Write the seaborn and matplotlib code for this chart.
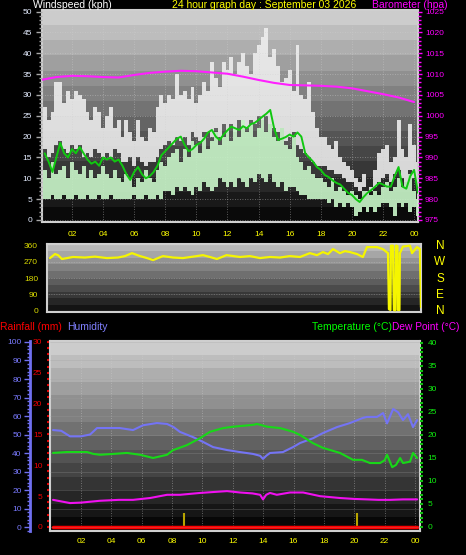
import numpy as np
import matplotlib
matplotlib.use("Agg")
import matplotlib.pyplot as plt
import seaborn as sns
from matplotlib.ticker import MultipleLocator, FixedLocator

# -----------------------------
# DATA
# -----------------------------

# 15 minute slots 00:15 .. 24:15 for the wind panel
slot_hours = np.arange(1, 98) * 0.25

gust_hi = [27, 24, 26, 33,  33, 28, 31, 29,  31, 30, 29, 26,  24, 27, 26, 22,
           25, 27, 22, 24,  20, 24, 21, 19,  24, 20, 19, 22,  21, 27, 30, 28,
           30, 29, 35, 30,  31, 29, 32, 28,  30, 33, 31, 38,  34, 32, 38, 36,
           39, 35, 38, 40,  37, 35, 40, 42,  44, 46, 39, 41,  37, 33, 34, 36,
           31, 42, 30, 29,  33, 26, 22, 20,  20, 18, 17, 19,  15, 14, 13, 12,
           10, 9, 11, 7,    8, 12, 16, 17,  18, 14, 15, 24,  17, 15, 23, 18,
           14]
gust_lo = [17, 15, 16, 18,  19, 17, 16, 18,  17, 18, 15, 16,  15, 17, 16, 15,
           16, 15, 17, 16,  14, 14, 15, 13,  15, 14, 13, 14,  14, 15, 17, 18,
           19, 18, 20, 19,  20, 18, 21, 20,  19, 21, 21, 20,  22, 20, 23, 21,
           23, 21, 24, 22,  22, 24, 23, 25,  24, 25, 23, 22,  21, 22, 19, 20,
           21, 18, 17, 16,  15, 14, 13, 13,  13, 12, 12, 11,  11, 10, 9, 9,
           8, 7, 8, 6,      7, 8, 9, 10,    11, 9, 11, 12,   10, 9, 12, 10,
           8]
speed_hi = [12, 10, 14, 11,  12, 13, 10, 14,  12, 11, 13, 10,  12, 10, 11, 13,
            11, 10, 12, 10,  9, 11, 10, 8,    10, 9, 12, 10,   9, 12, 14, 13,
            15, 16, 17, 14,  17, 15, 19, 18,  16, 20, 17, 19,  21, 18, 20, 22,
            19, 22, 20, 24,  21, 23, 20, 22,  24, 21, 23, 20,  19, 22, 18, 17,
            20, 15, 14, 12,  13, 11, 10, 10,  9, 8, 10, 7,     8, 7, 6, 7,
            6, 5, 7, 6,      6, 7, 6, 8,      9, 7, 8, 10,     8, 9, 11, 7,
            5]
speed_lo = [5, 5, 6, 5,  5, 6, 5, 5,  6, 5, 5, 6,  5, 5, 6, 5,
            5, 6, 5, 5,  5, 5, 5, 6,  5, 5, 6, 5,  5, 6, 5, 7,
            7, 6, 8, 7,  8, 7, 6, 8,  7, 9, 8, 7,  8, 10, 9, 8,
            9, 8, 10, 9, 8, 10, 9, 11, 10, 9, 11, 9, 8, 9, 7, 8,
            8, 7, 6, 6,  5, 5, 5, 5,  5, 4, 5, 3,  4, 3, 4, 3,
            1, 2, 3, 2,  3, 2, 3, 4,  4, 3, 1, 4,  3, 4, 2, 3,
            1]
wind_avg = [16, 14, 11.5, 15,  18.5, 16, 15, 17,  16, 17.5, 16, 14.5,
            13.5, 14, 13, 15,  14.5, 15, 14, 14.5,  13, 11, 9.6, 11.5,
            12.7, 11, 10, 10.5,  11.5, 13, 15.5, 16.5,  17.5, 18.5, 19.5, 20,
            18, 16.5, 17, 18,  18.5, 19.5, 21, 21.6,  20, 19.2, 20.5, 21.5,
            22.4, 22, 21.6, 22.5,  22, 23, 23.3, 24,  24.8, 25.5, 26.4, 22,
            19.2, 19.5, 19.9, 20.5,  20, 21, 20, 16,  15, 14, 12.7, 12,
            10.8, 10.3, 9.5, 8.9,  8.5, 7.5, 6.5, 6,  5, 4.3, 5.5, 6.5,
            7.2, 8, 8.9, 8.5,  8, 8, 10.5, 12.7,  8, 7.5, 10.5, 12,
            6.5]

baro_hours = list(range(0, 25))
baro_hpa = [1008.6, 1009.3, 1009.6, 1009.5, 1009.3, 1009.2, 1009.8, 1010.3,
            1010.6, 1010.8, 1010.7, 1010.4, 1010.1, 1009.4, 1008.6, 1007.9,
            1007.4, 1007.3, 1007.2, 1007.0, 1006.6, 1005.9, 1005.2, 1004.4,
            1003.3]

dir_hours = [0.58, 0.9, 1.1, 1.35, 1.68, 2.06, 2.84, 3.48, 4.26, 4.97, 5.42,
             5.87, 6.39, 6.84, 7.23, 7.87, 8.52, 9.16, 9.81, 10.45, 10.9,
             11.35, 11.97, 12.84, 13.48, 14.13, 14.77, 15.42, 16.06, 16.71,
             17.35, 17.81, 18.19, 18.52, 18.84, 19.29, 19.61, 19.94, 20.39,
             20.77, 21.03, 21.68, 22.06, 22.39, 22.45, 22.55, 22.58, 22.71,
             22.77, 22.87, 22.9, 23.0, 23.03, 23.13, 23.16, 23.35, 23.81,
             23.94, 24.26, 24.45, 24.52]
dir_deg = [289, 311, 305, 284, 289, 295, 292, 297, 289, 292, 300,
           316, 300, 289, 278, 300, 292, 289, 297, 305, 295,
           284, 305, 295, 300, 289, 295, 292, 300, 295,
           316, 305, 322, 311, 338, 316, 327, 322, 311,
           295, 349, 349, 338, 316, 10, 5, 357, 357,
           5, 3, 357, 355, 5, 5, 316, 352, 357,
           316, 349, 338, 20]

hum_hours = [0.16, 0.7, 1.28, 2.0, 2.6, 3.06, 3.8, 4.55, 5.43, 6.09, 7.0,
             7.67, 8.1, 8.52, 9.38, 10.04, 10.7, 11.62, 12.48, 13.33, 13.8,
             13.99, 14.2, 14.45, 15.3, 15.97, 16.43, 17.29, 17.94, 18.86,
             19.72, 20.58, 20.84, 21.5, 21.9, 22.16, 22.56, 22.89, 23.21,
             23.54, 23.87, 24.14]
hum_pct = [52.4, 52, 49, 49, 50, 53.5, 53.5, 53.5, 52.4, 55, 56.2,
           55.7, 54, 51.4, 48.6, 46, 43.2, 41.6, 40.5, 39.5, 38.5,
           36.8, 38.5, 40, 40.5, 43.2, 45.4, 48, 50.8, 54,
           56.2, 59, 59.5, 59.5, 61.6, 56, 63.8, 62, 57.8,
           61, 54, 57.8]

temp_hours = [0.16, 1.08, 2.4, 2.8, 3.25, 4.2, 5.03, 5.9, 6.75, 7.67, 8.06,
              8.98, 9.84, 10.5, 11.36, 12.02, 12.7, 13.33, 13.6, 14.26, 15.11,
              15.97, 16.43, 17.29, 17.94, 19.06, 19.92, 20.5, 21.04, 21.7,
              22.0, 22.16, 22.5, 22.75, 23.02, 23.21, 23.67, 23.87, 24.14]
temp_c = [16.1, 16.3, 16.3, 15.9, 15.7, 15.9, 16.1, 15.7, 15.0, 15.7, 16.7,
          17.8, 19.3, 20.7, 21.5, 21.8, 22.0, 22.2, 22.4, 21.8, 21.5,
          20.7, 20.0, 18.2, 17.2, 16.1, 14.6, 14.6, 13.9, 13.9,
          14.5, 15.7, 13.0, 13.5, 15.0, 13.9, 14.2, 16.1, 15.0]

dew_hours = [0.16, 1.28, 2.0, 3.25, 4.5, 5.43, 6.55, 7.67, 8.52, 9.84, 10.7,
             11.62, 12.48, 13.3, 13.8, 13.99, 14.2, 14.45, 14.9, 15.77, 16.63,
             17.75, 19.06, 20.0, 20.84, 21.6, 22.36, 23.2, 24.14]
dew_c = [5.9, 5.2, 5.3, 5.7, 5.9, 5.9, 6.3, 7.0, 7.0, 7.4, 7.6,
         7.8, 7.5, 7.3, 7.0, 6.0, 7.0, 7.4, 7.0, 7.5, 7.5,
         6.7, 6.3, 6.1, 6.0, 5.9, 5.9, 6.0, 6.0]

rain_hours = [0.16, 24.14]
rain_mm = [0.0, 0.0]

mark_hours = [8.79, 20.18]
mark_mm = [2.3, 2.3]

hour_ticks = list(range(2, 25, 2))
hour_labels = ["02", "04", "06", "08", "10", "12", "14", "16", "18", "20", "22", "00"]

# -----------------------------
# FIGURE SETUP
# -----------------------------

sns.set_style("dark")
plt.rcParams["font.family"] = ["Liberation Sans", "DejaVu Sans"]

W, H = 466, 555
fig = plt.figure(figsize=(W / 100, H / 100), dpi=100, facecolor="black")


def rect(x0, y0, x1, y1):
    return [x0 / W, 1 - y1 / H, (x1 - x0) / W, (y1 - y0) / H]


def gradient(ax, top, bottom, bands=14):
    g = np.linspace(top, bottom, bands).reshape(-1, 1)
    ax.imshow(g, cmap="gray", vmin=0, vmax=1, aspect="auto",
              extent=[0, 1, 0, 1], transform=ax.transAxes,
              zorder=0, interpolation="nearest")


def frame(ax, color="#cfcfcf"):
    for s in ax.spines.values():
        s.set_color(color)
        s.set_linewidth(1.5)


def ftext(x, y, s, color, size=7.5, ha="left"):
    fig.text(x / W, 1 - y / H, s, color=color, fontsize=size, ha=ha, va="baseline")


grid_kw = dict(color="#d0d0d0", linestyle=(0, (1, 2)), linewidth=0.6, alpha=0.55)

# -----------------------------
# PANEL 1: WIND + BAROMETER
# -----------------------------

ax1 = fig.add_axes(rect(42, 10, 418, 222))
gradient(ax1, 0.80, 0.04)
ax1.bar(slot_hours, np.array(gust_hi) - np.array(gust_lo), bottom=gust_lo,
        width=0.25, color="#f0f0f0", alpha=0.88, linewidth=0,
        antialiased=False, zorder=2)
ax1.bar(slot_hours, np.array(speed_hi) - np.array(speed_lo), bottom=speed_lo,
        width=0.25, color="#c6f2c6", alpha=0.92, linewidth=0,
        antialiased=False, zorder=3)
sns.lineplot(x=slot_hours, y=wind_avg, ax=ax1, color="#10c810", linewidth=1.4,
             estimator=None, zorder=4)
ax1.set_xlim(0.077, 24.25)
ax1.set_ylim(-0.5, 50.4)
ax1.yaxis.set_major_locator(MultipleLocator(5))
ax1.yaxis.set_minor_locator(MultipleLocator(1))
ax1.xaxis.set_major_locator(FixedLocator(hour_ticks))
ax1.xaxis.set_minor_locator(MultipleLocator(0.5))
ax1.set_xticklabels(hour_labels)
ax1.tick_params(axis="y", which="major", length=4, width=1, color="#a8a8a8",
                labelcolor="#e4ecff", labelsize=6, pad=3)
ax1.tick_params(axis="y", which="minor", length=2.5, width=1, color="#a8a8a8")
ax1.tick_params(axis="x", which="major", length=2.5, width=1, color="#a8a8a8",
                labelcolor="#ffff00", labelsize=6, pad=4)
ax1.tick_params(axis="x", which="minor", length=1.5, width=1, color="#a8a8a8")
ax1.grid(True, which="major", **grid_kw)
ax1.set_axisbelow(False)
frame(ax1)

ax1b = ax1.twinx()
sns.lineplot(x=baro_hours, y=baro_hpa, ax=ax1b, color="#ff20ff", linewidth=1.5,
             estimator=None)
ax1b.set_xlim(0.077, 24.25)
ax1b.set_ylim(974.5, 1025.4)
ax1b.yaxis.set_major_locator(MultipleLocator(5))
ax1b.yaxis.set_minor_locator(MultipleLocator(1))
ax1b.tick_params(axis="y", which="major", length=3, width=1, color="#ff00ff",
                 labelcolor="#ff00ff", labelsize=6, pad=2)
ax1b.tick_params(axis="y", which="minor", length=2, width=1, color="#ff00ff")
for s in ax1b.spines.values():
    s.set_visible(False)
ax1b.set_ylabel("")

# -----------------------------
# PANEL 2: WIND DIRECTION
# -----------------------------

ax2 = fig.add_axes(rect(47, 244, 421, 311.5))
gradient(ax2, 0.72, 0.08, bands=10)
sns.lineplot(x=dir_hours, y=dir_deg, ax=ax2, color="#f5f500", linewidth=1.6,
             estimator=None, zorder=3)
ax2.set_xlim(0.387, 24.52)
ax2.set_ylim(-3, 366)
ax2.yaxis.set_major_locator(FixedLocator([0, 90, 180, 270, 360]))
ax2.yaxis.set_minor_locator(MultipleLocator(22.5))
ax2.set_xticks([])
ax2.tick_params(axis="y", which="major", length=3.5, width=1.5, color="#a8a800",
                labelcolor="#dada00", labelsize=6, pad=3)
ax2.tick_params(axis="y", which="minor", length=2.5, width=1.5, color="#a8a800")
ax2.grid(True, axis="y", which="major", color="#c8c8c8", linestyle=(0, (1, 1)),
         linewidth=0.6, alpha=0.5)
frame(ax2)

for lab, yy in zip(["N", "W", "S", "E", "N"], [249, 265, 282, 298, 314]):
    ftext(440, yy, lab, "#ffff00", size=8.5, ha="center")

# -----------------------------
# PANEL 3: RAIN / HUMIDITY / TEMPERATURE / DEW POINT
# -----------------------------

ax3 = fig.add_axes(rect(50, 341, 420, 531))
gradient(ax3, 0.80, 0.03)
ax3.vlines(mark_hours, 0, mark_mm, color="#b8a400", linewidth=1.5, zorder=3)
sns.lineplot(x=rain_hours, y=rain_mm, ax=ax3, color="#ff0000", linewidth=2.5,
             estimator=None, zorder=4)
ax3.set_xlim(-0.04, 24.33)
ax3.set_ylim(-0.65, 30.16)
ax3.yaxis.set_major_locator(MultipleLocator(5))
ax3.yaxis.set_minor_locator(MultipleLocator(1))
ax3.xaxis.set_major_locator(FixedLocator(hour_ticks))
ax3.xaxis.set_minor_locator(MultipleLocator(0.5))
ax3.set_xticklabels(hour_labels)
ax3.tick_params(axis="y", which="major", length=2.5, width=1.5, color="#e00000",
                labelcolor="#f00000", labelsize=6, pad=3)
ax3.tick_params(axis="y", which="minor", length=2.5, width=1.5, color="#e00000")
ax3.tick_params(axis="x", which="major", length=2, width=1, color="#a8a8a8",
                labelcolor="#ffff00", labelsize=6, pad=3)
ax3.tick_params(axis="x", which="minor", length=1.5, width=1, color="#a8a8a8")
ax3.grid(True, axis="x", which="major", **grid_kw)
frame(ax3)

ax3h = ax3.twinx()
sns.lineplot(x=hum_hours, y=hum_pct, ax=ax3h, color="#7474f4", linewidth=1.5,
             estimator=None)
ax3h.set_xlim(-0.04, 24.33)
ax3h.set_ylim(-2.16, 100.54)
ax3h.yaxis.tick_left()
ax3h.yaxis.set_label_position("left")
ax3h.spines["left"].set_position(("axes", -20 / 370))
for k in ["right", "top", "bottom"]:
    ax3h.spines[k].set_visible(False)
ax3h.spines["left"].set_color("#7070f0")
ax3h.spines["left"].set_linewidth(2)
ax3h.yaxis.set_major_locator(MultipleLocator(10))
ax3h.yaxis.set_minor_locator(MultipleLocator(2))
ax3h.tick_params(axis="y", which="major", length=4.5, width=1, color="#7070f0",
                 labelcolor="#7a7aff", labelsize=6, pad=1.5)
ax3h.tick_params(axis="y", which="minor", length=2.5, width=1, color="#7070f0")
ax3h.grid(True, axis="y", which="major", color="#a0a0a0", linewidth=0.5, alpha=0.35)
ax3h.set_ylabel("")

ax3t = ax3.twinx()
sns.lineplot(x=temp_hours, y=temp_c, ax=ax3t, color="#18d818", linewidth=1.5,
             estimator=None)
sns.lineplot(x=dew_hours, y=dew_c, ax=ax3t, color="#f010f0", linewidth=1.5,
             estimator=None)
ax3t.set_xlim(-0.04, 24.33)
ax3t.set_ylim(-0.87, 40.43)
ax3t.yaxis.set_major_locator(MultipleLocator(5))
ax3t.yaxis.set_minor_locator(MultipleLocator(1))
for s in ax3t.spines.values():
    s.set_visible(False)
ax3t.tick_params(axis="y", which="major", length=2.5, width=1.5, color="#10c010",
                 labelcolor="#10f010", labelsize=6, pad=2.8)
ax3t.tick_params(axis="y", which="minor", length=2.5, width=1.5, color="#10c010")
ax3t.set_ylabel("")

# -----------------------------
# HEADER TEXTS
# -----------------------------

ftext(33, 8.3, "Windspeed (kph)", "#ffffff")
ftext(172, 8.3, "24 hour graph day : September 03 2026", "#ffff00")
ftext(372, 8.3, "Barometer (hpa)", "#ff00ff")
ftext(0, 330.5, "Rainfall (mm)", "#ff0000")
ftext(67, 330.5, "Humidity", "#8080ff")
ftext(312, 330.5, "Temperature (\u00b0C)", "#00ff00")
ftext(392, 330.5, "Dew Point (\u00b0C)", "#ff00ff", size=7.3)

fig.savefig("out.png", dpi=100, facecolor="black")
